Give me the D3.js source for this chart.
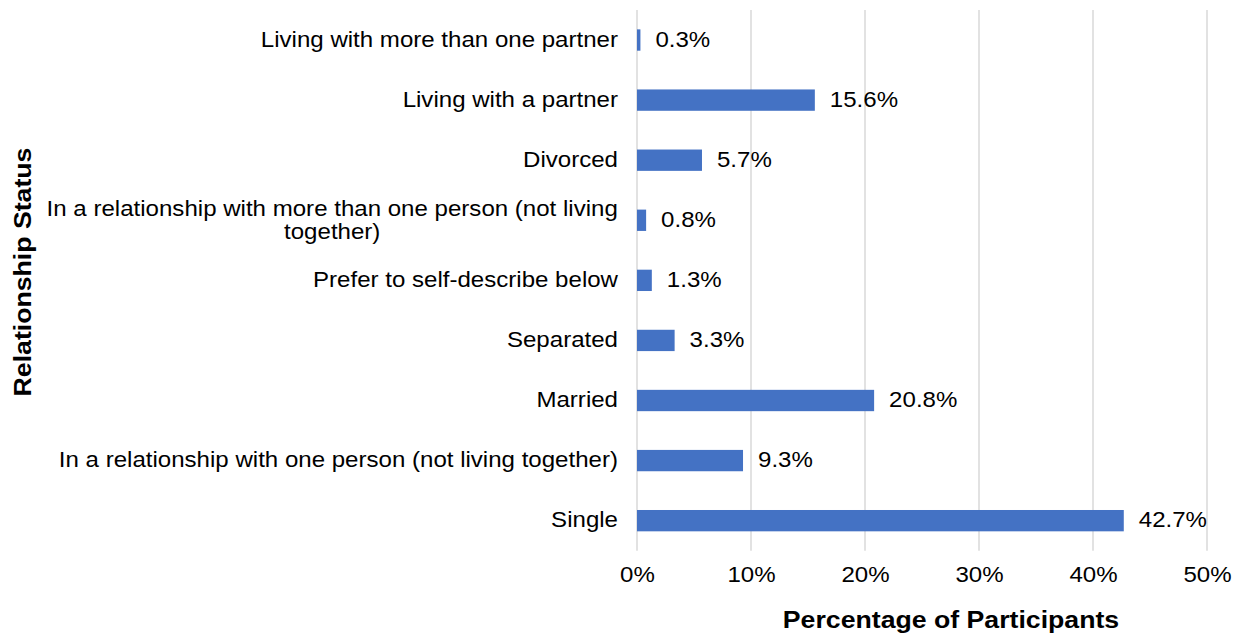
<!DOCTYPE html>
<html>
<head>
<meta charset="utf-8">
<script src="https://cdn.jsdelivr.net/npm/d3@7"></script>
<style>
  html, body { margin: 0; padding: 0; background: #ffffff; }
  svg { display: block; }
  text { font-family: "Liberation Sans", Arial, Helvetica, sans-serif; fill: #000; }
</style>
</head>
<body>
<svg id="chart" width="1242" height="639"></svg>
<script>
// Data (top to bottom as displayed)
const categories = [
  ["Living with more than one partner"],
  ["Living with a partner"],
  ["Divorced"],
  ["In a relationship with more than one person (not living", "together)"],
  ["Prefer to self-describe below"],
  ["Separated"],
  ["Married"],
  ["In a relationship with one person (not living together)"],
  ["Single"]
];
const values = [0.3, 15.6, 5.7, 0.8, 1.3, 3.3, 20.8, 9.3, 42.7];
const tickValues = [0, 10, 20, 30, 40, 50];
const xTitle = "Percentage of Participants";
const yTitle = "Relationship Status";

const svg = d3.select("#chart");
const SX = 1.12;       // horizontal glyph stretch seen in reference
const FS = 21.5;

const plotLeft = 637, plotRight = 1207, plotTop = 10, plotBottom = 550.7;
const keys = categories.map(c => c.join(" "));

const x = d3.scaleLinear().domain([0, 50]).range([plotLeft, plotRight]);
const y = d3.scaleBand().domain(keys).range([plotTop, plotBottom])
  .paddingInner(0.645).paddingOuter(0.3225);

// gridlines
svg.append("g").selectAll("line").data(tickValues).join("line")
  .attr("x1", d => x(d)).attr("x2", d => x(d))
  .attr("y1", plotTop).attr("y2", plotBottom)
  .attr("stroke", "#d9d9d9").attr("stroke-width", 1.5);

// bars
svg.append("g").selectAll("rect").data(values).join("rect")
  .attr("x", x(0))
  .attr("y", (d, i) => y(keys[i]))
  .attr("width", d => x(d) - x(0))
  .attr("height", y.bandwidth())
  .attr("fill", "#4472c4");

// value labels
svg.append("g").selectAll("text").data(values).join("text")
  .attr("transform", (d, i) => `translate(${x(d) + 15},${y(keys[i]) + y.bandwidth() / 2 + 6.8}) scale(${SX},1)`)
  .attr("font-size", FS)
  .text(d => d.toFixed(1) + "%");

// category labels
const labelRight = 618;
const lineH = 23;
categories.forEach((lines, i) => {
  const cy = y(keys[i]) + y.bandwidth() / 2;
  if (lines.length === 1) {
    svg.append("text")
      .attr("transform", `translate(${labelRight},${cy + 6.8}) scale(${SX},1)`)
      .attr("text-anchor", "end")
      .attr("font-size", FS)
      .text(lines[0]);
  } else {
    const g = svg.append("g");
    const texts = lines.map((l, j) => g.append("text")
      .attr("font-size", FS)
      .attr("text-anchor", "middle")
      .text(l));
    const maxW = d3.max(texts, t => t.node().getComputedTextLength()) * SX;
    const cx = labelRight - maxW / 2;
    const y0 = cy + 6.8 - (lines.length - 1) * lineH / 2;
    texts.forEach((t, j) => t.attr("transform", `translate(${cx},${y0 + j * lineH}) scale(${SX},1)`));
  }
});

// x tick labels
const xAxis = d3.axisBottom(x).tickValues(tickValues).tickFormat(d => d + "%").tickSize(0).tickPadding(0);
const ax = svg.append("g").call(xAxis);
ax.select(".domain").remove();
ax.selectAll(".tick text")
  .attr("y", null).attr("dy", null)
  .attr("font-size", FS)
  .attr("font-family", "Liberation Sans, Arial, Helvetica, sans-serif")
  .attr("fill", "#000")
  .attr("transform", `translate(0,582) scale(${SX},1)`);

// axis titles
svg.append("text")
  .attr("transform", `translate(951,628) scale(1.16,1)`)
  .attr("text-anchor", "middle")
  .attr("font-size", 23)
  .attr("font-weight", "bold")
  .text(xTitle);

svg.append("text")
  .attr("transform", `translate(31,272) rotate(-90) scale(1.16,1)`)
  .attr("text-anchor", "middle")
  .attr("font-size", 23)
  .attr("font-weight", "bold")
  .text(yTitle);
</script>
</body>
</html>
